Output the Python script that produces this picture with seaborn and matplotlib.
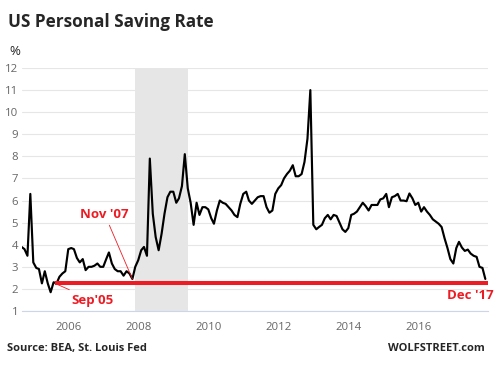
import pandas as pd
import matplotlib
matplotlib.use("Agg")
import matplotlib.pyplot as plt
import matplotlib.dates as mdates
import seaborn as sns

# --- data: monthly saving rate (%), Sep 2004 .. Dec 2017 ---
start_month = "2004-09-01"
saving_rate = [
    3.9, 3.8, 3.5, 6.3, 3.2, 2.95, 2.9, 2.25, 2.8, 2.25, 1.85, 2.3,
    2.25, 2.55, 2.7, 2.8, 3.8, 3.85, 3.8, 3.4, 3.2, 3.35, 2.85, 3.0,
    3.0, 3.05, 3.15, 3.0, 3.0, 3.35, 3.65, 3.15, 2.9, 2.8, 2.8, 2.6,
    2.8, 2.7, 2.45, 3.0, 3.3, 3.75, 3.9, 3.5, 7.9, 5.4, 4.35, 3.75,
    4.5, 5.4, 6.15, 6.4, 6.4, 5.9, 6.1, 6.65, 8.1, 6.55, 5.9, 4.9,
    5.9, 5.35, 5.7, 5.7, 5.6, 5.2, 4.95, 5.55, 6.0, 5.9, 5.85, 5.7,
    5.55, 5.35, 5.25, 5.85, 6.3, 6.4, 6.0, 5.85, 6.0, 6.15, 6.2, 6.2,
    5.7, 5.45, 5.55, 6.3, 6.55, 6.7, 7.0, 7.2, 7.35, 7.6, 7.1, 7.1,
    7.2, 7.75, 8.8, 11.0, 4.9, 4.7, 4.8, 4.9, 5.2, 5.35, 5.15, 5.35,
    5.3, 5.0, 4.7, 4.58, 4.75, 5.35, 5.4, 5.5, 5.7, 5.9, 5.75, 5.55,
    5.8, 5.8, 5.8, 6.05, 6.1, 6.3, 5.7, 6.15, 6.2, 6.3, 6.0, 6.0,
    5.97, 6.32, 6.1, 5.8, 5.9, 5.5, 5.7, 5.5, 5.35, 5.15, 5.05, 4.95,
    4.8, 4.3, 3.85, 3.35, 3.15, 3.85, 4.13, 3.87, 3.72, 3.78, 3.6, 3.5,
    3.45, 3.0, 2.95, 2.45,
]

recession = ("2007-12-01", "2009-06-01")
low_level = 2.25
low_line_start = "2005-08-15"
x_range = ("2004-09-01", "2018-01-01")
year_ticks = [2006, 2008, 2010, 2012, 2014, 2016]
y_ticks = list(range(1, 13))

RED = "#ed1c24"


def build_frame():
    """Monthly dates + values as a DataFrame for seaborn."""
    dates = pd.date_range(start_month, periods=len(saving_rate), freq="MS")
    return pd.DataFrame({"date": dates, "rate": saving_rate})


def draw(df):
    sns.set_style("white")
    plt.rcParams["font.family"] = ["Open Sans", "DejaVu Sans"]

    fig = plt.figure(figsize=(4.96, 3.65), dpi=100)
    ax = fig.add_axes([21.6 / 496, 1 - 311 / 365, 466.7 / 496, 243 / 365])

    # recession band
    ax.axvspan(pd.Timestamp(recession[0]), pd.Timestamp(recession[1]),
               color="#e6e6e6", zorder=0, lw=0)

    sns.lineplot(data=df, x="date", y="rate", color="black", lw=1.55, ax=ax, zorder=3)

    # red "low" line
    ax.plot([pd.Timestamp(low_line_start), pd.Timestamp(x_range[1])],
            [low_level, low_level], color=RED, lw=2.9, zorder=4,
            solid_capstyle="butt")

    ax.set_xlim(pd.Timestamp(x_range[0]), pd.Timestamp(x_range[1]))
    ax.set_ylim(1, 12)
    ax.set_yticks(y_ticks)
    ax.set_xticks([pd.Timestamp(f"{y}-01-01") for y in year_ticks])
    ax.xaxis.set_major_formatter(mdates.DateFormatter("%Y"))
    ax.set_xlabel("")
    ax.set_ylabel("")

    ax.grid(axis="y", color="#e6e6e6", lw=0.8, zorder=1)
    ax.set_axisbelow(True)
    for side in ["top", "right", "left"]:
        ax.spines[side].set_visible(False)
    ax.spines["bottom"].set_color("#ccd6eb")
    ax.spines["bottom"].set_linewidth(0.8)

    ax.tick_params(axis="y", length=0, pad=2.5, labelsize=8.2, labelcolor="#666666")
    ax.tick_params(axis="x", length=5, width=0.8, color="#ccd6eb", pad=3,
                   labelsize=8.2, labelcolor="#666666")

    # annotations
    nov07 = df.loc[df["date"] == "2007-11-01"].iloc[0]
    ax.annotate("Nov '07", xy=(nov07["date"], nov07["rate"]), xytext=(-20, 42),
                textcoords="offset points", ha="center", va="bottom",
                color=RED, fontsize=9.5, fontweight="bold",
                arrowprops=dict(arrowstyle="-", color=RED, lw=0.6,
                                shrinkA=1, shrinkB=0))
    ax.annotate("Sep'05", xy=(pd.Timestamp(low_line_start), low_level),
                xytext=(12, -12), textcoords="offset points", ha="left", va="center",
                color=RED, fontsize=9.5, fontweight="bold",
                arrowprops=dict(arrowstyle="-", color=RED, lw=0.6,
                                shrinkA=1, shrinkB=0))
    ax.annotate("Dec '17", xy=(pd.Timestamp(x_range[1]), low_level),
                xytext=(3.5, -8.5), textcoords="offset points", ha="right", va="center",
                color=RED, fontsize=9.5, fontweight="bold", annotation_clip=False)

    # titles and footers
    fig.text(8 / 496, 1 - 27 / 365, "US Personal Saving Rate", fontsize=12.3,
             fontweight="bold", va="baseline", ha="left")
    fig.text(9 / 496, 1 - 55 / 365, "%", fontsize=9.5, va="baseline", ha="left")
    fig.text(7 / 496, 1 - 351 / 365, "Source: BEA, St. Louis Fed", fontsize=8,
             fontweight="bold", va="baseline", ha="left")
    fig.text(485 / 496, 1 - 351 / 365, "WOLFSTREET.com", fontsize=8,
             fontweight="bold", va="baseline", ha="right")

    return fig


def main():
    df = build_frame()
    fig = draw(df)
    fig.savefig("out.png", dpi=100)
    print("saved out.png")


if __name__ == "__main__":
    main()
